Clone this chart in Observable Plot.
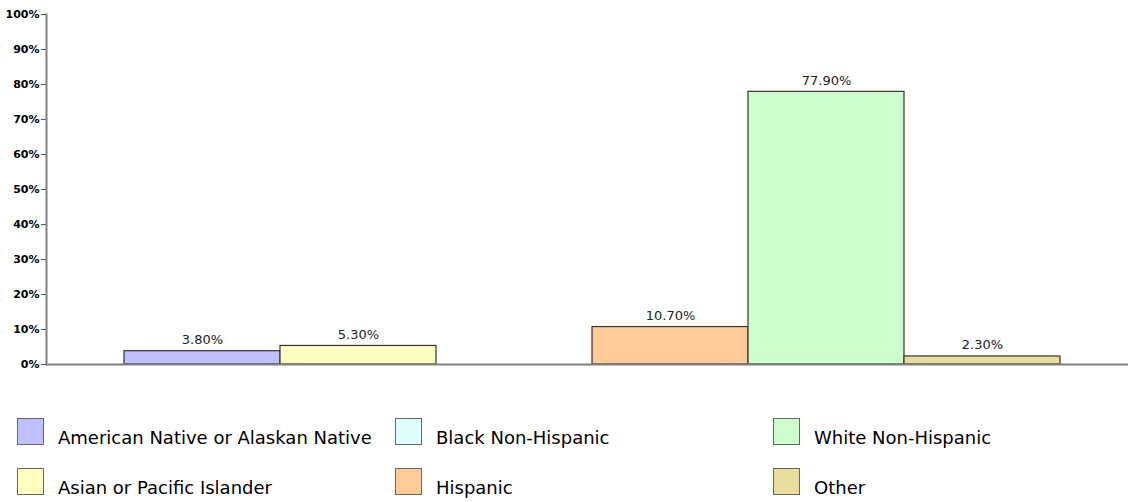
<!DOCTYPE html>
<html>
<head>
<meta charset="utf-8">
<script src="https://cdn.jsdelivr.net/npm/d3@7"></script>
<script src="https://cdn.jsdelivr.net/npm/@observablehq/plot@0.6"></script>
<style>
  html, body { margin: 0; padding: 0; background: #fff; }
  #wrap { position: relative; width: 1128px; height: 502px; }
  #legend { position: absolute; left: 0; top: 0; width: 1128px; height: 502px; pointer-events: none; }
  .item { position: absolute; display: flex; align-items: flex-start; font-family: "DejaVu Sans", sans-serif; font-size: 18px; line-height: 22px; color: #000; white-space: nowrap; }
  .sw { width: 25px; height: 25px; border: 1px solid #666; box-sizing: content-box; margin-right: 14px; }
  .tx { padding-top: 9px; }
</style>
</head>
<body>
<div id="wrap"><div id="chart"></div><div id="legend"></div></div>
<script>
const categories = ["American Native or Alaskan Native", "Asian or Pacific Islander", "Black Non-Hispanic", "Hispanic", "White Non-Hispanic", "Other"];
const values = [0.038, 0.053, 0.0, 0.107, 0.779, 0.023];
const labels = ["3.80%", "5.30%", "", "10.70%", "77.90%", "2.30%"];
const colors = ["#c0c0ff", "#ffffc0", "#e0ffff", "#ffcc99", "#ccffcc", "#e8dc9e"];
const legendOrder = ["American Native or Alaskan Native", "Black Non-Hispanic", "White Non-Hispanic", "Asian or Pacific Islander", "Hispanic", "Other"];
const yTicks = [0, 0.1, 0.2, 0.3, 0.4, 0.5, 0.6, 0.7, 0.8, 0.9, 1.0];

const data = categories.map((c, i) => ({category: c, value: values[i], label: labels[i]}));
const shown = data.filter(d => d.value > 0);

const chart = Plot.plot({
  width: 1128,
  height: 392,
  marginLeft: 46,
  marginRight: 0,
  marginTop: 14,
  marginBottom: 28,
  style: {fontFamily: "DejaVu Sans, sans-serif", background: "#fff", overflow: "visible"},
  x: {domain: categories, range: [124, 1060], padding: 0, axis: null},
  y: {domain: [0, 1], ticks: yTicks, tickFormat: d => Math.round(d * 100) + "%", label: null},
  color: {domain: categories, range: colors},
  marks: [
    Plot.barY(shown, {x: "category", y: "value", fill: "category", stroke: "#333", strokeWidth: 1.2, inset: 0}),
    Plot.text(shown, {x: "category", y: "value", text: "label", dy: -7, lineAnchor: "bottom", fontSize: 13, fill: "#222"}),
    Plot.ruleY([0], {stroke: "#808080", strokeWidth: 2}),
    Plot.axisY({ticks: yTicks, tickFormat: d => Math.round(d * 100) + "%", tickSize: 5, tickPadding: 2, fontSize: 11, fontWeight: "bold", fill: "#000", stroke: "#555", label: null}),
    Plot.frame({anchor: "left", stroke: "#808080", strokeWidth: 2})
  ]
});
document.getElementById("chart").appendChild(chart);

const legend = document.getElementById("legend");
const colX = [17, 395, 773];
const rowY = [418, 468];
legendOrder.forEach((name, i) => {
  const col = i % 3, row = Math.floor(i / 3);
  const item = document.createElement("div");
  item.className = "item";
  item.style.left = colX[col] + "px";
  item.style.top = rowY[row] + "px";
  const sw = document.createElement("div");
  sw.className = "sw";
  sw.style.background = colors[categories.indexOf(name)];
  const tx = document.createElement("span");
  tx.className = "tx";
  tx.textContent = name;
  item.appendChild(sw);
  item.appendChild(tx);
  legend.appendChild(item);
});
</script>
</body>
</html>
